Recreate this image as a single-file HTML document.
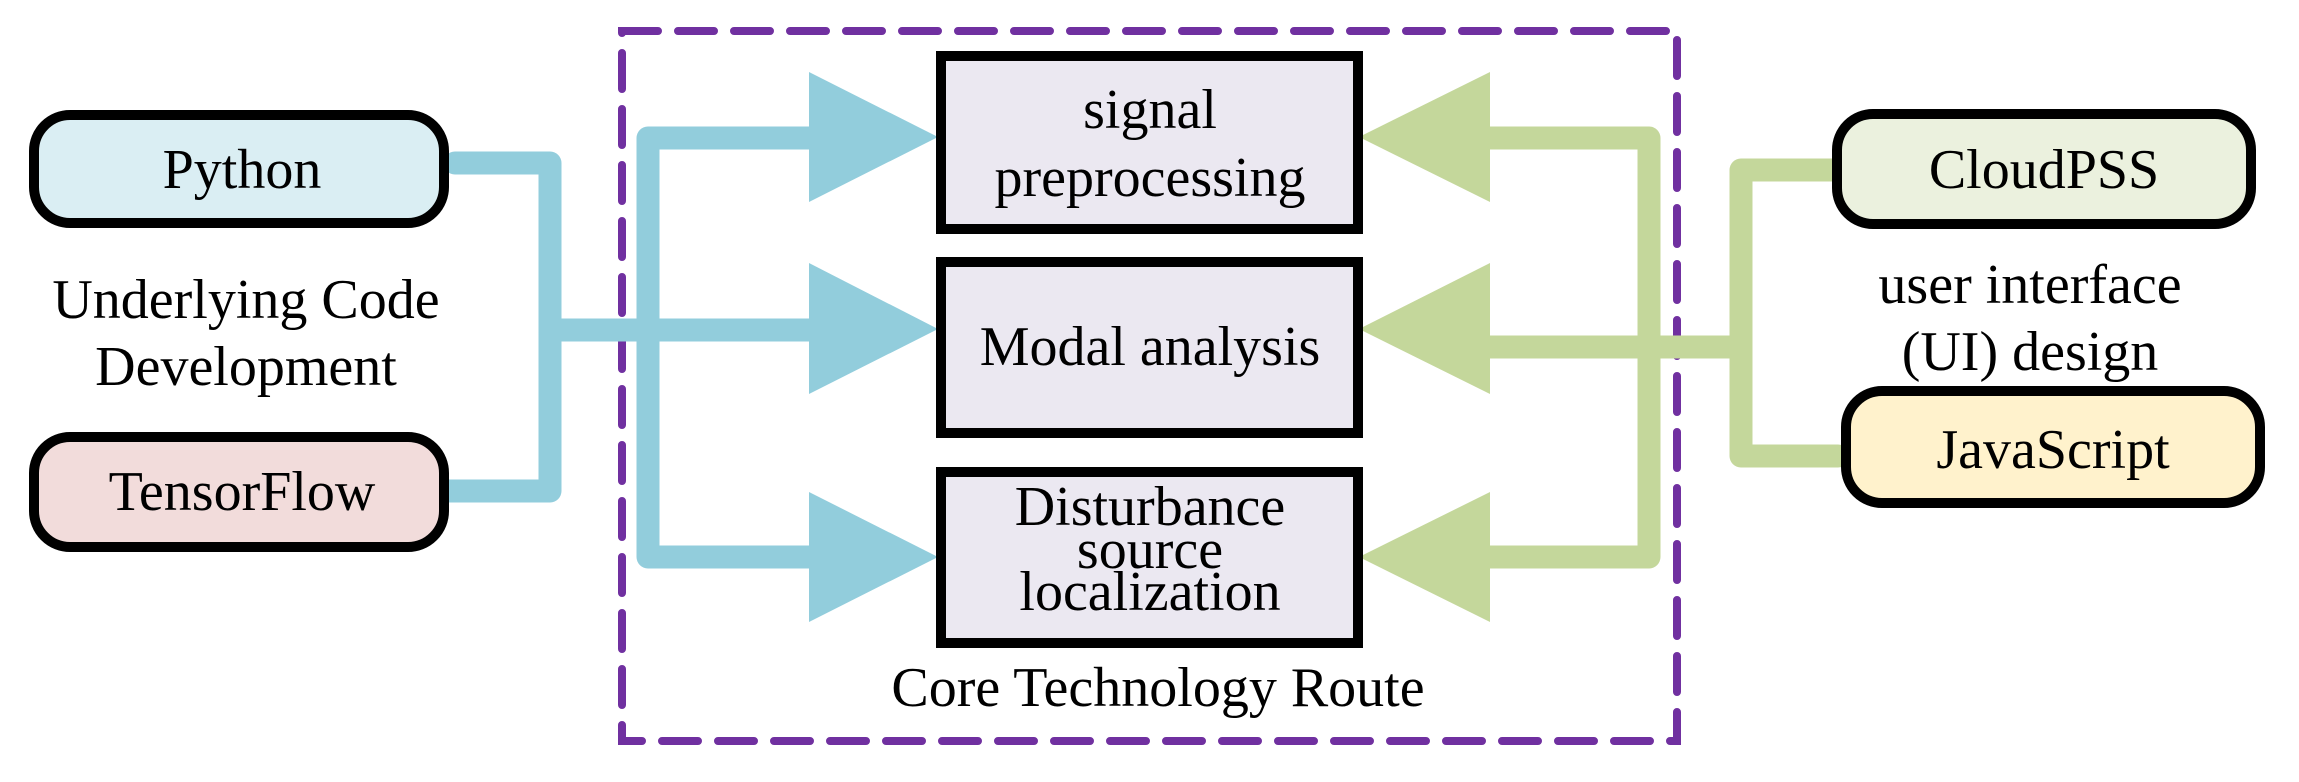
<!DOCTYPE html>
<html><head><meta charset="utf-8"><style>
html,body{margin:0;padding:0;background:#fff;}
svg{display:block;}
text{font-family:"Liberation Serif",serif;font-size:56px;fill:#000;text-anchor:middle;dominant-baseline:central;}
</style></head><body>
<svg width="2299" height="782" viewBox="0 0 2299 782" xmlns="http://www.w3.org/2000/svg">
<!-- dashed frame -->
<rect x="622" y="31" width="1055" height="710" fill="none" stroke="#7030a0" stroke-width="8" stroke-dasharray="36 20" stroke-linecap="round"/>

<!-- blue connectors -->
<g stroke="#92cddc" stroke-width="23" fill="none" stroke-linecap="round" stroke-linejoin="round">
<polyline points="455,163 550,163 550,491 449,491"/>
<line x1="550" y1="330" x2="815" y2="330"/>
<polyline points="815,138 648,138 648,557 815,557"/>
</g>
<g fill="#92cddc">
<polygon points="809,72 938,137 809,202"/>
<polygon points="809,263 938,329 809,394"/>
<polygon points="809,492 938,557 809,622"/>
</g>

<!-- green connectors -->
<g stroke="#c4d79b" stroke-width="23" fill="none" stroke-linecap="round" stroke-linejoin="round">
<polyline points="1485,138 1649,138 1649,557 1485,557"/>
<line x1="1485" y1="347" x2="1741" y2="347"/>
<polyline points="1832,170 1741,170 1741,456 1838,456"/>
</g>
<g fill="#c4d79b">
<polygon points="1490,72 1359,137 1490,202"/>
<polygon points="1490,263 1359,329 1490,394"/>
<polygon points="1490,492 1359,557 1490,622"/>
</g>

<!-- left boxes -->
<rect x="34" y="115" width="410" height="108" rx="36" fill="#daeef3" stroke="#000" stroke-width="10"/>
<text x="242" y="170">Python</text>
<rect x="34" y="437" width="410" height="110" rx="36" fill="#f2dcdb" stroke="#000" stroke-width="10"/>
<text x="242" y="492">TensorFlow</text>
<text x="246" y="300">Underlying Code</text>
<text x="246" y="367">Development</text>

<!-- center boxes -->
<g fill="#ebe8f1" stroke="#000" stroke-width="10">
<rect x="941" y="56" width="417" height="173"/>
<rect x="941" y="262" width="417" height="171"/>
<rect x="941" y="472" width="417" height="171"/>
</g>
<text x="1150" y="110">signal</text>
<text x="1150" y="178">preprocessing</text>
<text x="1150" y="347">Modal analysis</text>
<text x="1150" y="507">Disturbance</text>
<text x="1150" y="550">source</text>
<text x="1150" y="592">localization</text>
<text x="1158" y="688">Core Technology Route</text>

<!-- right boxes -->
<rect x="1837" y="114" width="414" height="110" rx="36" fill="#ebf1de" stroke="#000" stroke-width="10"/>
<text x="2044" y="170">CloudPSS</text>
<rect x="1846" y="391" width="414" height="112" rx="36" fill="#fff2cc" stroke="#000" stroke-width="10"/>
<text x="2053" y="450">JavaScript</text>
<text x="2030" y="285">user interface</text>
<text x="2030" y="352">(UI) design</text>
</svg>
</body></html>
